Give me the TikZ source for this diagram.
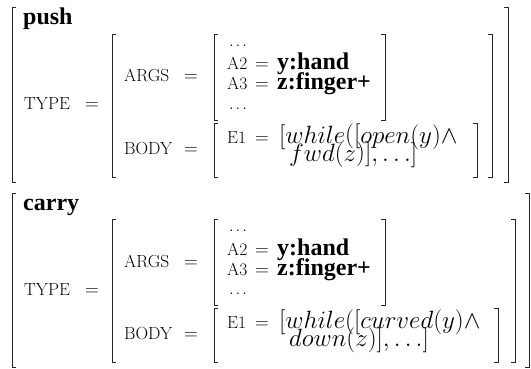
\RequirePackage{fix-cm}
\documentclass[tikz,border=0pt]{standalone}
\usepackage{fontspec}
\newfontfamily\timesbf{Liberation Serif}[BoldFont={Liberation Serif Bold}]
\newcommand\avmbrackets[4]{%
  \draw[brk] (#1+4,#3) -- (#1,#3) -- (#1,#4) -- (#1+4,#4);
  \draw[brk] (#2-4,#3) -- (#2,#3) -- (#2,#4) -- (#2-4,#4);}
\tikzset{
  lbl/.style={anchor=base west, inner sep=0pt, font=\fontsize{17.5}{21}\selectfont},
  eqs/.style={anchor=base west, inner sep=0pt, font=\fontsize{19}{22}\selectfont},
  val/.style={anchor=base west, inner sep=0pt, font=\fontsize{24}{28}\selectfont\timesbf\bfseries},
  mth/.style={anchor=base west, inner sep=0pt, font=\fontsize{25}{28}\selectfont},
  dts/.style={anchor=center, inner sep=0pt, font=\fontsize{15}{18}\selectfont},
  brk/.style={line width=0.9pt, black!85},
}
\begin{document}
\begin{tikzpicture}[x=1pt, y=-1pt]
\useasboundingbox (0,0) rectangle (531,369);
% ---------- push ----------
\avmbrackets{12}{508}{7}{182}
\node[val] (push) at (23,25) {push};
\node[lbl] (type1) at (24,110) {TYPE};
\node[eqs] (type1eq) at (85,110) {$=$};
\avmbrackets{112}{492}{34}{177}
\node[lbl] (args1) at (124,82) {ARGS};
\node[eqs] (args1eq) at (184,82) {$=$};
\avmbrackets{214}{385}{34}{120}
\node[dts] (dots1a) at (238,46) {$\cdots$};
\node[lbl] (a21) at (227,70) {A2};
\node[eqs] (a21eq) at (255,70) {$=$};
\node[val] (hand1) at (277,70) {y:hand};
\node[lbl] (a31) at (227,90) {A3};
\node[eqs] (a31eq) at (255,90) {$=$};
\node[val] (finger1) at (277,90) {z:finger+};
\node[dts] (dots1b) at (238,109) {$\cdots$};
\node[lbl] (body1) at (124,154) {BODY};
\node[eqs] (body1eq) at (184,154) {$=$};
\avmbrackets{214}{477}{123}{177}
\node[lbl] (e11) at (227,143) {E1};
\node[eqs] (e11eq) at (255,143) {$=$};
\node[mth] (m11) at (279,143) {$[while\bigl([open(y)\wedge$};
\node[mth] (m12) at (289,161) {$fwd(z\bigr)],\ldots]$};
% ---------- carry ----------
\avmbrackets{12}{529}{193}{367}
\node[val] (carry) at (23,211) {carry};
\node[lbl] (type2) at (24,295) {TYPE};
\node[eqs] (type2eq) at (85,295) {$=$};
\avmbrackets{112}{515}{219}{362}
\node[lbl] (args2) at (124,267) {ARGS};
\node[eqs] (args2eq) at (184,267) {$=$};
\avmbrackets{214}{385}{219}{305}
\node[dts] (dots2a) at (238,231) {$\cdots$};
\node[lbl] (a22) at (227,255) {A2};
\node[eqs] (a22eq) at (255,255) {$=$};
\node[val] (hand2) at (277,255) {y:hand};
\node[lbl] (a32) at (227,275) {A3};
\node[eqs] (a32eq) at (255,275) {$=$};
\node[val] (finger2) at (277,275) {z:finger+};
\node[dts] (dots2b) at (238,294) {$\cdots$};
\node[lbl] (body2) at (124,339) {BODY};
\node[eqs] (body2eq) at (184,339) {$=$};
\avmbrackets{214}{498}{308}{362}
\node[lbl] (e12) at (227,328) {E1};
\node[eqs] (e12eq) at (255,328) {$=$};
\node[mth] (m21) at (279,328) {$[while\bigl([curved(y)\wedge$};
\node[mth] (m22) at (289,346) {$down(z\bigr)],\ldots]$};
\end{tikzpicture}
\end{document}
